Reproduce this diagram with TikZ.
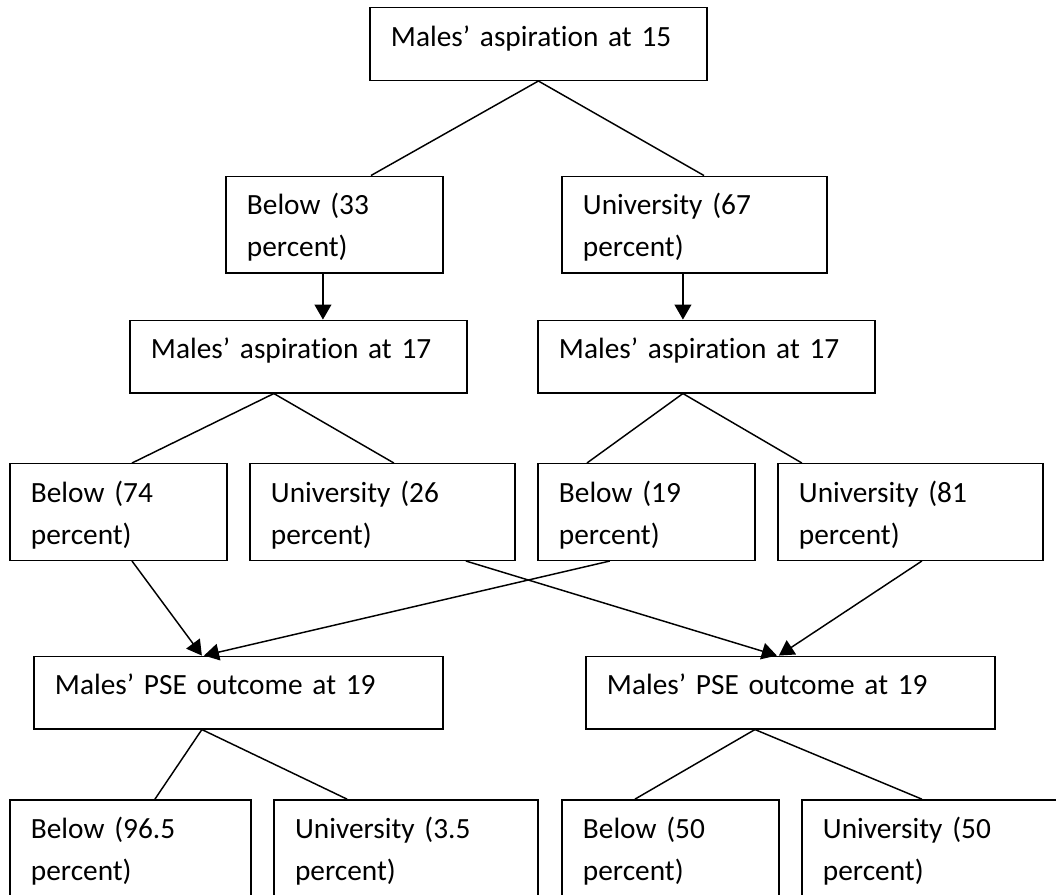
\documentclass[tikz,border=0pt]{standalone}
\usepackage{fontspec}
\setmainfont{Carlito}[RawFeature={-liga;-clig;-calt;-dlig},WordSpace=0.85]
\usetikzlibrary{arrows.meta}
\tikzstyle{box}=[draw,rectangle,inner xsep=7.9pt,inner ysep=0pt,align=left,text height=14.4pt,text depth=12.8pt]
\tikzstyle{shortbox}=[box,text width=65.6pt,text depth=21.8pt]
\tikzstyle{widebox}=[box,text width=83.6pt,text depth=21.8pt]
\tikzstyle{longbox}=[box,text width=110.6pt]
\tikzstyle{psebox}=[box,text width=137.6pt]
\tikzstyle{every node}=[font=\fontsize{11pt}{15.75pt}\selectfont]

\begin{document}
\begin{tikzpicture}[>={Triangle[length=5.6pt,width=6.3pt]},line width=0.55pt]
    \clip (0,0) rectangle (396pt,-335.6pt);
    \node[longbox] (a15) at (201.9pt,-16.5pt) {Males’ aspiration at 15};
    \node[shortbox, below of=a15, node distance=67.7pt, xshift=-76.5pt] (b33) {Below (33\\percent)};
    \node[widebox, right of=b33, node distance=135pt] (u67) {University (67\\percent)};
    \node[longbox, below of=b33, node distance=49.5pt, xshift=-13.5pt] (a17l) {Males’ aspiration at 17};
    \node[longbox, right of=a17l, node distance=153pt] (a17r) {Males’ aspiration at 17};
    \node[shortbox, below of=a17l, node distance=58.3pt, xshift=-67.5pt] (b74) {Below (74\\percent)};
    \node[widebox, right of=b74, node distance=99pt] (u26) {University (26\\percent)};
    \node[shortbox, right of=u26, node distance=99pt] (b19) {Below (19\\percent)};
    \node[widebox, right of=b19, node distance=99pt] (u81) {University (81\\percent)};
    \node[psebox, below of=b74, node distance=67.7pt, xshift=45pt] (psel) {Males’ PSE outcome at 19};
    \node[psebox, right of=psel, node distance=207pt] (pser) {Males’ PSE outcome at 19};
    \node[shortbox, text width=74.6pt, text depth=23.1pt, below of=psel, node distance=59pt, xshift=-40.5pt] (b965) {Below (96.5\\percent)};
    \node[widebox, text width=83.2pt, text depth=23.1pt, right of=b965, node distance=103.35pt] (u35) {University (3.5\\percent)};
    \node[shortbox, text depth=23.1pt, right of=u35, node distance=99.15pt] (b50) {Below (50\\percent)};
    \node[widebox, text depth=23.1pt, right of=b50, node distance=99pt] (u50) {University (50\\percent)};
    \draw (a15.south) -- ([xshift=13.7pt]b33.north);
    \draw (a15.south) -- ([xshift=3.6pt]u67.north);
    \draw[->] ([xshift=-4.3pt]b33.south) -- ([xshift=9.2pt]a17l.north);
    \draw[->] ([xshift=-4.3pt]u67.south) -- ([xshift=-8.8pt]a17r.north);
    \draw ([xshift=-9.2pt]a17l.south) -- ([xshift=5.1pt]b74.north);
    \draw ([xshift=-9.2pt]a17l.south) -- ([xshift=4.3pt]u26.north);
    \draw ([xshift=-8.8pt]a17r.south) -- ([xshift=-22.3pt]b19.north);
    \draw ([xshift=-8.8pt]a17r.south) -- ([xshift=-40.7pt]u81.north);
    \draw[->] ([xshift=5.1pt]b74.south) -- ([xshift=-13.7pt]psel.north);
    \draw[->] ([xshift=-13.7pt]b19.south) -- ([xshift=-12.9pt]psel.north);
    \draw[->] ([xshift=31.3pt]u26.south) -- ([xshift=-5.1pt]pser.north);
    \draw[->] ([xshift=4.3pt]u81.south) -- ([xshift=-4.3pt]pser.north);
    \draw ([xshift=-13.7pt]psel.south) -- ([xshift=9.2pt]b965.north);
    \draw ([xshift=-13.7pt]psel.south) -- ([xshift=-22.1pt]u35.north);
    \draw ([xshift=-13.3pt]pser.south) -- ([xshift=-13.3pt]b50.north);
    \draw ([xshift=-13.3pt]pser.south) -- ([xshift=-4.7pt]u50.north);
\end{tikzpicture}
\end{document}
